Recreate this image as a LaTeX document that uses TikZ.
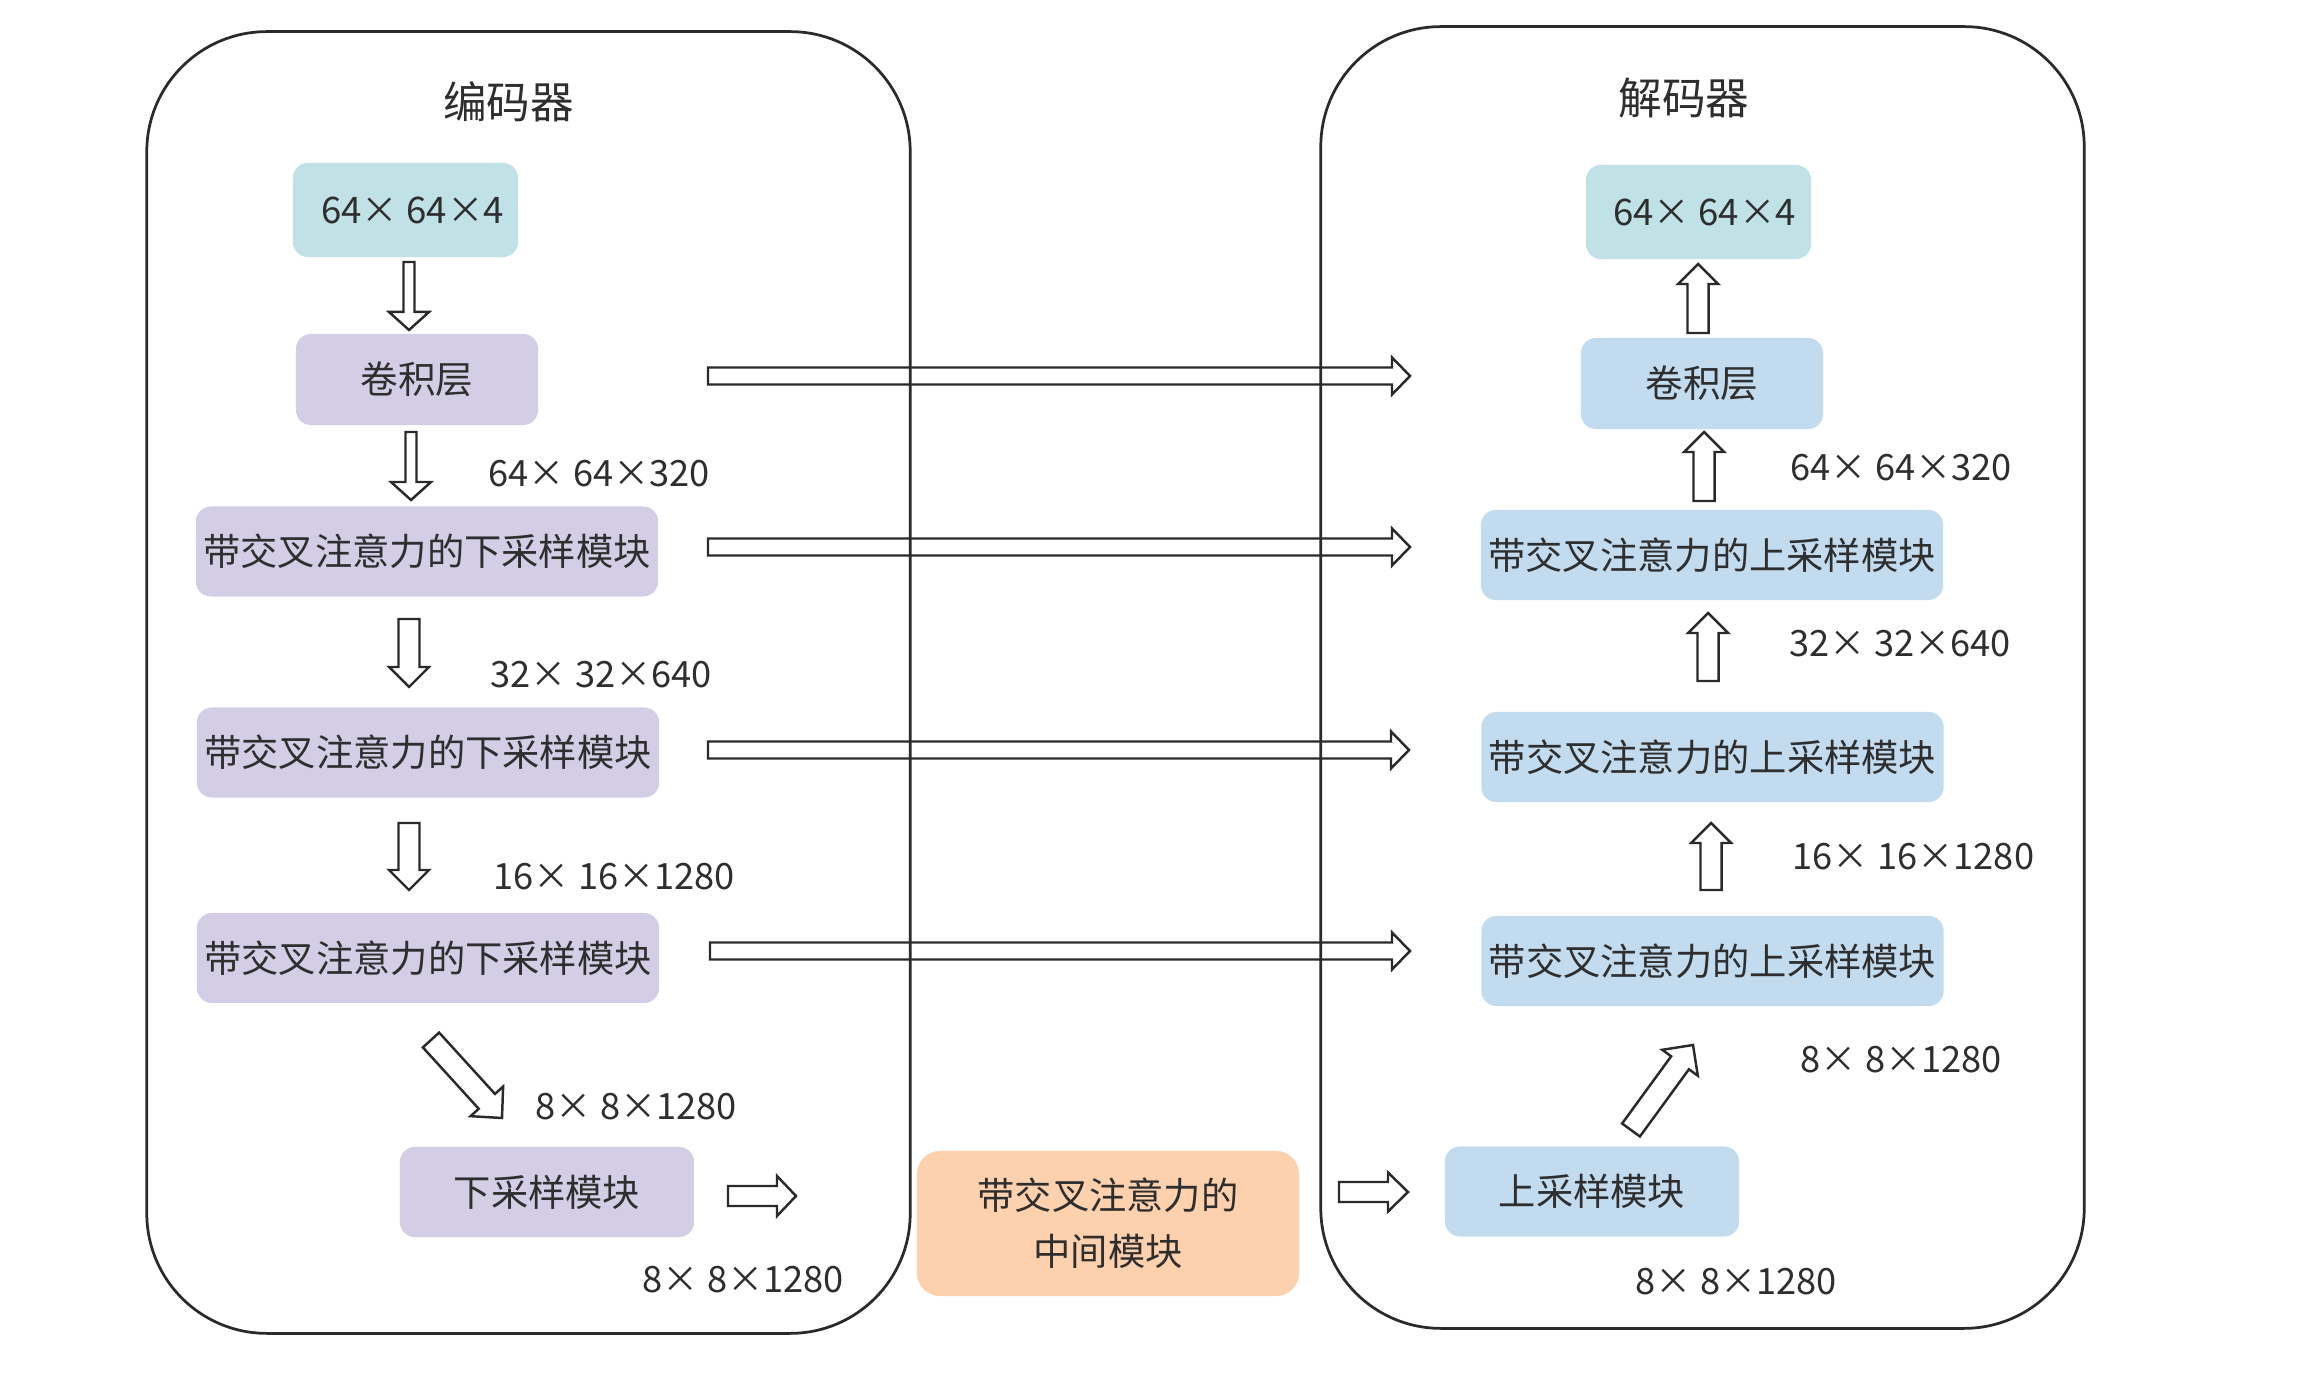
\documentclass[tikz,border=0pt]{standalone}
\usepackage{fontspec}
\setmainfont{Noto Sans CJK SC}
\usetikzlibrary{calc}

\definecolor{inkc}{HTML}{2E2E2E}
\definecolor{linec}{HTML}{2A2A2A}
\definecolor{tealc}{HTML}{C0E1E5}
\definecolor{purplec}{HTML}{D3CEE5}
\definecolor{bluec}{HTML}{C3DBEE}
\definecolor{orangec}{HTML}{FDD0AE}

% hollow block arrow: tail, tip, half shaft width, half head width, head length
\newcommand\hollowarrow[5]{%
  \path ($(#2)!#5!(#1)$) coordinate (hb);
  \draw[arrowline] ($(#1)!#3!90:(#2)$) -- ($(hb)!#3!90:(#2)$) -- ($(hb)!#4!90:(#2)$)
    -- (#2) -- ($(hb)!#4!-90:(#2)$) -- ($(hb)!#3!-90:(#2)$) -- ($(#1)!#3!-90:(#2)$) -- cycle;
}

\begin{document}
\begin{tikzpicture}[x=0.01cm,y=-0.01cm,
  container/.style={draw=linec, line width=0.78pt, rounded corners=1.2cm,
    minimum width=7.63cm, minimum height=13.01cm, inner sep=0pt},
  title/.style={text=inkc, inner sep=0pt, font=\fontsize{12.4}{15}\selectfont},
  blk/.style={rounded corners=0.15cm, inner sep=0pt, text=inkc},
  sizebox/.style={blk, fill=tealc, minimum width=2.25cm, minimum height=0.94cm,
    font=\fontsize{10.4}{13}\selectfont},
  convbox/.style={blk, minimum width=2.42cm, minimum height=0.91cm,
    font=\fontsize{10.7}{13}\selectfont},
  modbox/.style={blk, minimum width=4.62cm, minimum height=0.90cm,
    font=\fontsize{10.6}{13}\selectfont},
  smallmod/.style={blk, minimum width=2.94cm, minimum height=0.90cm,
    font=\fontsize{10.6}{13}\selectfont},
  midbox/.style={blk, rounded corners=0.23cm, fill=orangec, minimum width=3.82cm,
    minimum height=1.45cm, align=center, font=\fontsize{10.6}{15.9}\selectfont},
  dimlabel/.style={anchor=west, inner sep=0pt, text=inkc,
    font=\fontsize{10.3}{12}\selectfont},
  arrowline/.style={draw=linec, line width=0.7pt, line join=miter}
]
\useasboundingbox (0,0) rectangle (2309,1398);

% outer frames
\node[container] (enc) at (528.5,682.5) {};
\node[container] (dec) at (1702.5,677.5) {};
\node[title] (enctitle) at (508.5,102) {编码器};
\node[title] (dectitle) at (1684,98) {解码器};

% encoder column
\node[sizebox] (ein) at (405.5,210) {\hspace{0.14cm}64× 64×4};
\node[convbox, fill=purplec] (econv) at (417,379.5) {卷积层};
\node[modbox, fill=purplec] (ed1) at (427,551.5) {带交叉注意力的下采样模块};
\node[modbox, fill=purplec] (ed2) at (428,752.5) {带交叉注意力的下采样模块};
\node[modbox, fill=purplec] (ed3) at (428,958) {带交叉注意力的下采样模块};
\node[smallmod, fill=purplec] (eds) at (547,1192) {下采样模块};

% middle block
\node[midbox] (mid) at (1108,1223.5) {带交叉注意力的\\中间模块};

% decoder column
\node[sizebox] (dout) at (1698.5,212) {\hspace{0.12cm}64× 64×4};
\node[convbox, fill=bluec] (dconv) at (1702,383.5) {卷积层};
\node[modbox, fill=bluec] (du1) at (1712,555) {带交叉注意力的上采样模块};
\node[modbox, fill=bluec] (du2) at (1712.5,757) {带交叉注意力的上采样模块};
\node[modbox, fill=bluec] (du3) at (1712.5,961) {带交叉注意力的上采样模块};
\node[smallmod, fill=bluec] (dus) at (1592,1191.5) {上采样模块};

% tensor sizes
\node[dimlabel] (l1) at (488,474) {64× 64×320};
\node[dimlabel] (l2) at (490,675) {32× 32×640};
\node[dimlabel] (l3) at (493,877) {16× 16×1280};
\node[dimlabel] (l4) at (535,1107) {8× 8×1280};
\node[dimlabel] (l5) at (642,1280) {8× 8×1280};
\node[dimlabel] (r1) at (1790,468) {64× 64×320};
\node[dimlabel] (r2) at (1789,644) {32× 32×640};
\node[dimlabel] (r3) at (1792,857) {16× 16×1280};
\node[dimlabel] (r4) at (1800,1060) {8× 8×1280};
\node[dimlabel] (r5) at (1635,1282) {8× 8×1280};

% arrow end points
\coordinate (ea1t) at (409,262);  \coordinate (ea1h) at (409,330);
\coordinate (ea2t) at (411,432);  \coordinate (ea2h) at (411,500);
\coordinate (ea3t) at (409,619);  \coordinate (ea3h) at (409,687);
\coordinate (ea4t) at (409,823);  \coordinate (ea4h) at (409,890);
\coordinate (ea5t) at (431,1040); \coordinate (ea5h) at (502,1118);
\coordinate (ea6t) at (728,1196); \coordinate (ea6h) at (796,1196);

\coordinate (da0t) at (1339,1192); \coordinate (da0h) at (1408,1192);
\coordinate (da1t) at (1631,1130); \coordinate (da1h) at (1693,1045);
\coordinate (da2t) at (1711,890);  \coordinate (da2h) at (1711,823);
\coordinate (da3t) at (1708,681);  \coordinate (da3h) at (1708,613);
\coordinate (da4t) at (1704,501);  \coordinate (da4h) at (1704,432);
\coordinate (da5t) at (1698,333);  \coordinate (da5h) at (1698,264);

\coordinate (sk1t) at (708,376); \coordinate (sk1h) at (1410,376);
\coordinate (sk2t) at (708,547); \coordinate (sk2h) at (1410,547);
\coordinate (sk3t) at (708,750); \coordinate (sk3h) at (1409,750);
\coordinate (sk4t) at (710,951); \coordinate (sk4h) at (1410,951);

% encoder flow
\hollowarrow{ea1t}{ea1h}{0.055cm}{0.2cm}{0.18cm}
\hollowarrow{ea2t}{ea2h}{0.055cm}{0.2cm}{0.18cm}
\hollowarrow{ea3t}{ea3h}{0.105cm}{0.2cm}{0.2cm}
\hollowarrow{ea4t}{ea4h}{0.105cm}{0.2cm}{0.2cm}
\hollowarrow{ea5t}{ea5h}{0.11cm}{0.22cm}{0.225cm}
\hollowarrow{ea6t}{ea6h}{0.10cm}{0.20cm}{0.19cm}

% decoder flow
\hollowarrow{da0t}{da0h}{0.10cm}{0.195cm}{0.20cm}
\hollowarrow{da1t}{da1h}{0.11cm}{0.22cm}{0.22cm}
\hollowarrow{da2t}{da2h}{0.105cm}{0.2cm}{0.2cm}
\hollowarrow{da3t}{da3h}{0.105cm}{0.2cm}{0.2cm}
\hollowarrow{da4t}{da4h}{0.105cm}{0.2cm}{0.2cm}
\hollowarrow{da5t}{da5h}{0.105cm}{0.2cm}{0.2cm}

% skip connections
\hollowarrow{sk1t}{sk1h}{0.085cm}{0.185cm}{0.18cm}
\hollowarrow{sk2t}{sk2h}{0.085cm}{0.185cm}{0.18cm}
\hollowarrow{sk3t}{sk3h}{0.085cm}{0.185cm}{0.18cm}
\hollowarrow{sk4t}{sk4h}{0.085cm}{0.185cm}{0.18cm}
\end{tikzpicture}
\end{document}
